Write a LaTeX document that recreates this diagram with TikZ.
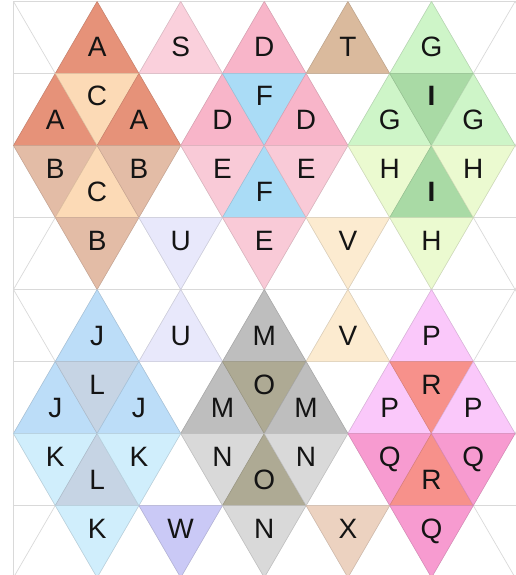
\documentclass[tikz,border=0pt]{standalone}
\usepackage{fontspec}
\setmainfont{Liberation Sans}
\definecolor{cA}{HTML}{E69279}
\definecolor{cB}{HTML}{E3BCA6}
\definecolor{cC}{HTML}{FCDAB6}
\definecolor{cS}{HTML}{FAD0DC}
\definecolor{cD}{HTML}{F8B5C9}
\definecolor{cE}{HTML}{F9CAD7}
\definecolor{cF}{HTML}{AADCF6}
\definecolor{cT}{HTML}{DABA9D}
\definecolor{cG}{HTML}{CEF5C8}
\definecolor{cI}{HTML}{A9DAA5}
\definecolor{cH}{HTML}{EBFAD0}
\definecolor{cU}{HTML}{E8E8FB}
\definecolor{cV}{HTML}{FCEBD0}
\definecolor{cJ}{HTML}{BCDDF8}
\definecolor{cL}{HTML}{C6D4E4}
\definecolor{cK}{HTML}{D0EEFC}
\definecolor{cM}{HTML}{BEBEBE}
\definecolor{cO}{HTML}{AEAA94}
\definecolor{cN}{HTML}{D9D9D9}
\definecolor{cP}{HTML}{FAC8FA}
\definecolor{cR}{HTML}{F7918B}
\definecolor{cQ}{HTML}{F79BD0}
\definecolor{cW}{HTML}{CAC9F6}
\definecolor{cX}{HTML}{ECD2C0}
\tikzset{
  gridline/.style={draw=black!15, line width=0.7pt},
  tricell/.style={line width=0.5pt},
  lab/.style={font=\fontsize{28}{28}\selectfont, inner sep=0pt, anchor=base, text=black!92}
}
\newcommand{\mytri}[4]{%
  \pgfmathsetmacro\tx{13.5+41.8*#2}%
  \pgfmathsetmacro\ty{-(1.5+72*#1)}%
  \pgfmathtruncatemacro\tpar{mod(#1+#2,2)}%
  \ifnum\tpar=0
    \filldraw[tricell,fill=#3,draw=#3!88!black] (\tx pt,\ty pt) -- ++(-41.8pt,-72pt) -- ++(83.6pt,0pt) -- cycle;
    \node[lab] (n#1-#2) at (\tx pt,\ty pt-55.5pt) {#4};
  \else
    \filldraw[tricell,fill=#3,draw=#3!88!black] (\tx pt,\ty pt-72pt) -- ++(-41.8pt,72pt) -- ++(83.6pt,0pt) -- cycle;
    \node[lab] (n#1-#2) at (\tx pt,\ty pt-32.5pt) {#4};
  \fi}
\begin{document}
\begin{tikzpicture}
\useasboundingbox (0pt,0pt) rectangle (516pt,-575pt);
% background grid
\begin{scope}
  \clip (13.5pt,-1.5pt) rectangle (520pt,-580pt);
  \foreach \r in {0,...,8} {
    \draw[gridline] (13.5pt,{-(1.5+72*\r)*1pt}) -- (520pt,{-(1.5+72*\r)*1pt});
  }
  \foreach \j in {-8,-6,...,12} {
    \draw[gridline] ({(13.5+41.8*\j)*1pt},-1.5pt) -- ({(13.5+41.8*(\j+8))*1pt},-577.5pt);
  }
  \foreach \j in {0,2,...,20} {
    \draw[gridline] ({(13.5+41.8*\j)*1pt},-1.5pt) -- ({(13.5+41.8*(\j-8))*1pt},-577.5pt);
  }
\end{scope}
\draw[gridline] (13.5pt,-1.5pt) -- (13.5pt,-580pt);
% coloured cells
\foreach \r/\j/\c/\l in {
  0/2/cA/A, 0/4/cS/S, 0/6/cD/D, 0/8/cT/T, 0/10/cG/G,
  1/1/cA/A, 1/2/cC/C, 1/3/cA/A, 1/5/cD/D, 1/6/cF/F, 1/7/cD/D, 1/9/cG/G, 1/10/cI/\textbf{I}, 1/11/cG/G,
  2/1/cB/B, 2/2/cC/C, 2/3/cB/B, 2/5/cE/E, 2/6/cF/F, 2/7/cE/E, 2/9/cH/H, 2/10/cI/\textbf{I}, 2/11/cH/H,
  3/2/cB/B, 3/4/cU/U, 3/6/cE/E, 3/8/cV/V, 3/10/cH/H,
  4/2/cJ/J, 4/4/cU/U, 4/6/cM/M, 4/8/cV/V, 4/10/cP/P,
  5/1/cJ/J, 5/2/cL/L, 5/3/cJ/J, 5/5/cM/M, 5/6/cO/O, 5/7/cM/M, 5/9/cP/P, 5/10/cR/R, 5/11/cP/P,
  6/1/cK/K, 6/2/cL/L, 6/3/cK/K, 6/5/cN/N, 6/6/cO/O, 6/7/cN/N, 6/9/cQ/Q, 6/10/cR/R, 6/11/cQ/Q,
  7/2/cK/K, 7/4/cW/W, 7/6/cN/N, 7/8/cX/X, 7/10/cQ/Q} {
  \mytri{\r}{\j}{\c}{\l}
}
\end{tikzpicture}
\end{document}
